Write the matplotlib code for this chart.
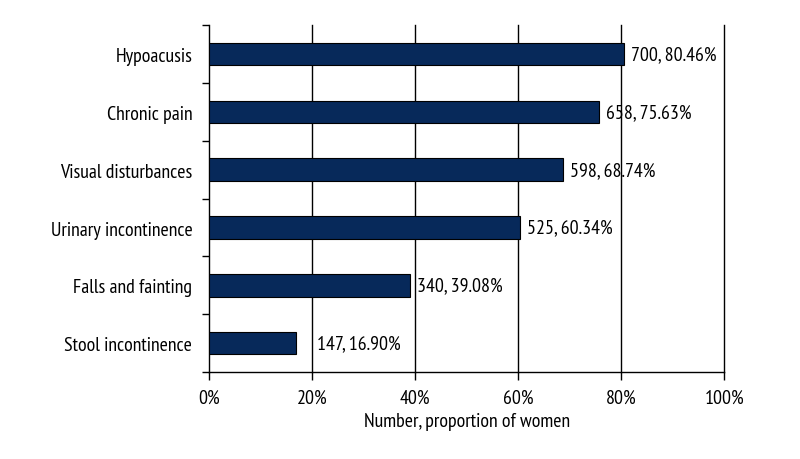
import matplotlib
matplotlib.use('Agg')
import matplotlib.pyplot as plt
from matplotlib.ticker import PercentFormatter

categories = ['Hypoacusis', 'Chronic pain', 'Visual disturbances',
              'Urinary incontinence', 'Falls and fainting', 'Stool incontinence']
counts = [700, 658, 598, 525, 340, 147]
percents = [80.46, 75.63, 68.74, 60.34, 39.08, 16.90]

plt.rcParams['font.family'] = ['PT Sans Narrow', 'DejaVu Sans']
plt.rcParams['font.size'] = 14.3

fig = plt.figure(figsize=(8, 4.6), dpi=100)
ax = fig.add_axes([0.2613, 0.189, 0.644, 0.754])

y = list(range(len(categories)))[::-1]
ax.barh(y, percents, height=0.39, color='#07295a', edgecolor='black', linewidth=0.8, zorder=3)

# label offsets (points), the last one sits further out in the original
offsets = [5, 5, 5, 5, 5, 15]
for yi, c, p, off in zip(y, counts, percents, offsets):
    ax.annotate(f'{c}, {p:.2f}%', (p, yi), xytext=(off, 0), textcoords='offset points',
                va='center', ha='left', fontsize=14.3, zorder=4)

ax.set_xlim(0, 100)
ax.set_ylim(-0.5, len(categories) - 0.5)
ax.set_xticks([0, 20, 40, 60, 80, 100])
ax.xaxis.set_major_formatter(PercentFormatter(decimals=0))
ax.set_yticks(y)
ax.set_yticklabels(categories)
ax.set_yticks([i - 0.5 for i in range(len(categories) + 1)], minor=True)
ax.tick_params(axis='y', which='major', length=0, pad=12)
ax.tick_params(axis='y', which='minor', length=5, width=1, direction='out')
ax.tick_params(axis='x', length=6, width=1, direction='out', pad=6)
for g in [20, 40, 60, 80, 100]:
    ax.axvline(g, color='black', linewidth=1, zorder=1, clip_on=False)

for s in ['top', 'right']:
    ax.spines[s].set_visible(False)
ax.spines['left'].set_linewidth(1)
ax.spines['bottom'].set_linewidth(1)

ax.set_xlabel('Number, proportion of women', fontsize=14.3, labelpad=4)

fig.savefig('out.png', dpi=100)
